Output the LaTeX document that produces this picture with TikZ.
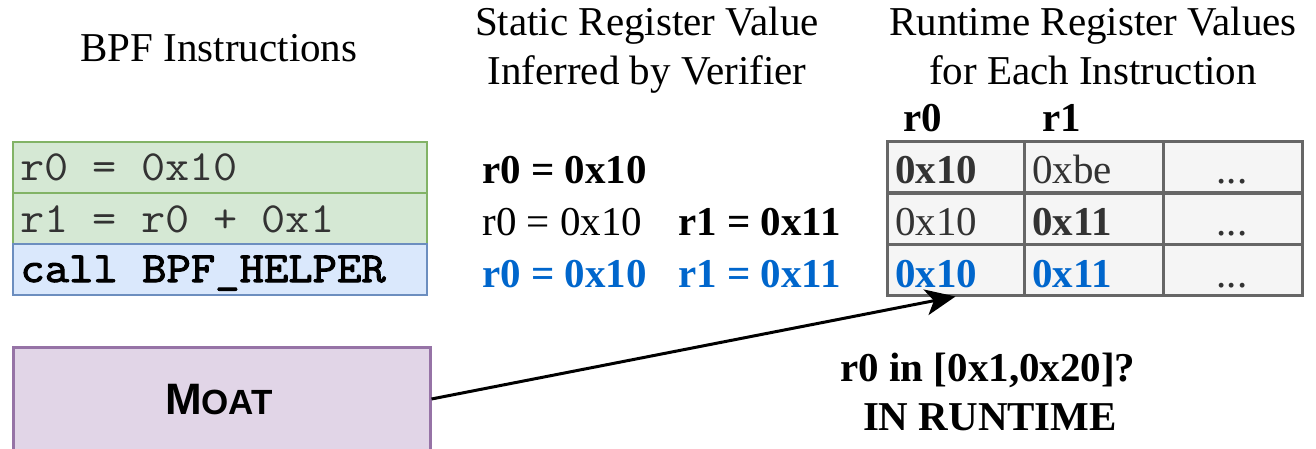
\documentclass[tikz,border=0pt]{standalone}
\usepackage{fontspec}
\setmainfont{Liberation Serif}
\newfontfamily\cour[FakeStretch=1.09]{Latin Modern Mono}
\newfontfamily\courbold[FakeStretch=1.1,FakeBold=2.4]{Latin Modern Mono}
\newfontfamily\hsans{Liberation Sans}
\usetikzlibrary{arrows.meta}
\definecolor{gfill}{HTML}{D5E8D4}
\definecolor{gline}{HTML}{82B366}
\definecolor{bfill}{HTML}{DAE8FC}
\definecolor{bline}{HTML}{6C8EBF}
\definecolor{pfill}{HTML}{E1D5E7}
\definecolor{pline}{HTML}{9673A6}
\definecolor{tfill}{HTML}{F5F5F5}
\definecolor{tline}{HTML}{666666}
\definecolor{ttext}{HTML}{333333}
\definecolor{hblue}{HTML}{0066CC}
\tikzset{
  ser/.style={inner sep=0pt, font=\fontsize{20.5}{23.5}\selectfont, anchor=base},
  serw/.style={ser, anchor=base west},
  mono/.style={inner sep=0pt, font=\fontsize{21.5}{24}\selectfont\cour, anchor=base west, text=ttext},
  insbox/.style={draw, line width=1pt, minimum width=207pt, minimum height=25.5pt, inner sep=0pt},
  cell/.style={draw=tline, fill=tfill, line width=1.5pt, minimum height=25.5pt, inner sep=0pt},
  ctext/.style={serw, text=ttext},
}
\begin{document}
\begin{tikzpicture}[x=0.5pt,y=-0.5pt]
\useasboundingbox (0,0) rectangle (1316,449);
% titles
\node[ser] (t1) at (219,62) {BPF Instructions};
\node[ser] (t2a) at (647,36) {Static Register Value};
\node[ser] (t2b) at (647,85) {Inferred by Verifier};
\node[ser] (t3a) at (1093,36) {Runtime Register Values};
\node[ser] (t3b) at (1093,85) {for Each Instruction};
% instruction boxes
\node[insbox, draw=gline, fill=gfill] (i1) at (220,167.5) {};
\node[insbox, draw=gline, fill=gfill] (i2) at (220,218.5) {};
\node[insbox, draw=bline, fill=bfill] (i3) at (220,269.5) {};
\node[mono] (i1t) at (20,180) {r0 = 0x10};
\node[mono] (i2t) at (20,232) {r1 = r0 + 0x1};
\node[mono, text=black, font=\fontsize{21.5}{24}\selectfont\courbold] (i3t) at (20,282) {call BPF\_HELPER};
% verifier values
\node[serw, font=\fontsize{20.5}{23.5}\selectfont\bfseries] (v1a) at (482,183) {r0 = 0x10};
\node[serw] (v2a) at (482,235) {r0 = 0x10};
\node[serw, font=\fontsize{20.5}{23.5}\selectfont\bfseries] (v2b) at (678,235) {r1 = 0x11};
\node[serw, text=hblue, font=\fontsize{20.5}{23.5}\selectfont\bfseries] (v3a) at (482,287) {r0 = 0x10};
\node[serw, text=hblue, font=\fontsize{20.5}{23.5}\selectfont\bfseries] (v3b) at (678,287) {r1 = 0x11};
% table headers
\node[serw, font=\fontsize{20.5}{23.5}\selectfont\bfseries] (h0) at (903,132) {r0};
\node[serw, font=\fontsize{20.5}{23.5}\selectfont\bfseries] (h1) at (1042,132) {r1};
% table cells
\foreach \r/\y in {1/167, 2/218.5, 3/269.5} {
  \node[cell, minimum width=68.5pt] (c\r0) at (955.5,\y) {};
  \node[cell, minimum width=69.5pt] (c\r1) at (1093.5,\y) {};
  \node[cell, minimum width=69.5pt] (c\r2) at (1232.5,\y) {};
}
\node[ctext, font=\fontsize{20.5}{23.5}\selectfont\bfseries] (x10) at (895,183) {0x10};
\node[ctext] (x11) at (1032,183) {0xbe};
\node[ser, text=ttext] (x12) at (1232,183) {...};
\node[ctext] (x20) at (895,235) {0x10};
\node[ctext, font=\fontsize{20.5}{23.5}\selectfont\bfseries] (x21) at (1032,235) {0x11};
\node[ser, text=ttext] (x22) at (1232,235) {...};
\node[serw, text=hblue, font=\fontsize{20.5}{23.5}\selectfont\bfseries] (x30) at (895,287) {0x10};
\node[serw, text=hblue, font=\fontsize{20.5}{23.5}\selectfont\bfseries] (x31) at (1032,287) {0x11};
\node[ser, text=ttext] (x32) at (1232,287) {...};
% MOAT
\node[draw=pline, fill=pfill, line width=1.5pt, minimum width=208.5pt, minimum height=52pt, inner sep=0pt] (moat) at (221.5,399) {};
\node[inner sep=0pt] (moatt) at (219,400) {\hsans\bfseries\fontsize{22}{24}\selectfont M\fontsize{17.5}{20}\selectfont OAT};
% arrow
\draw[line width=1.5pt, -{Stealth[length=15pt, width=13pt, inset=4pt]}] (moat.east) -- (c30.south);
% question
\node[ser, font=\fontsize{20.5}{23.5}\selectfont\bfseries] (q1) at (988,381) {r0 in [0x1,0x20]?};
\node[ser, font=\fontsize{20.5}{23.5}\selectfont\bfseries] (q2) at (990,430) {IN RUNTIME};
\end{tikzpicture}
\end{document}
